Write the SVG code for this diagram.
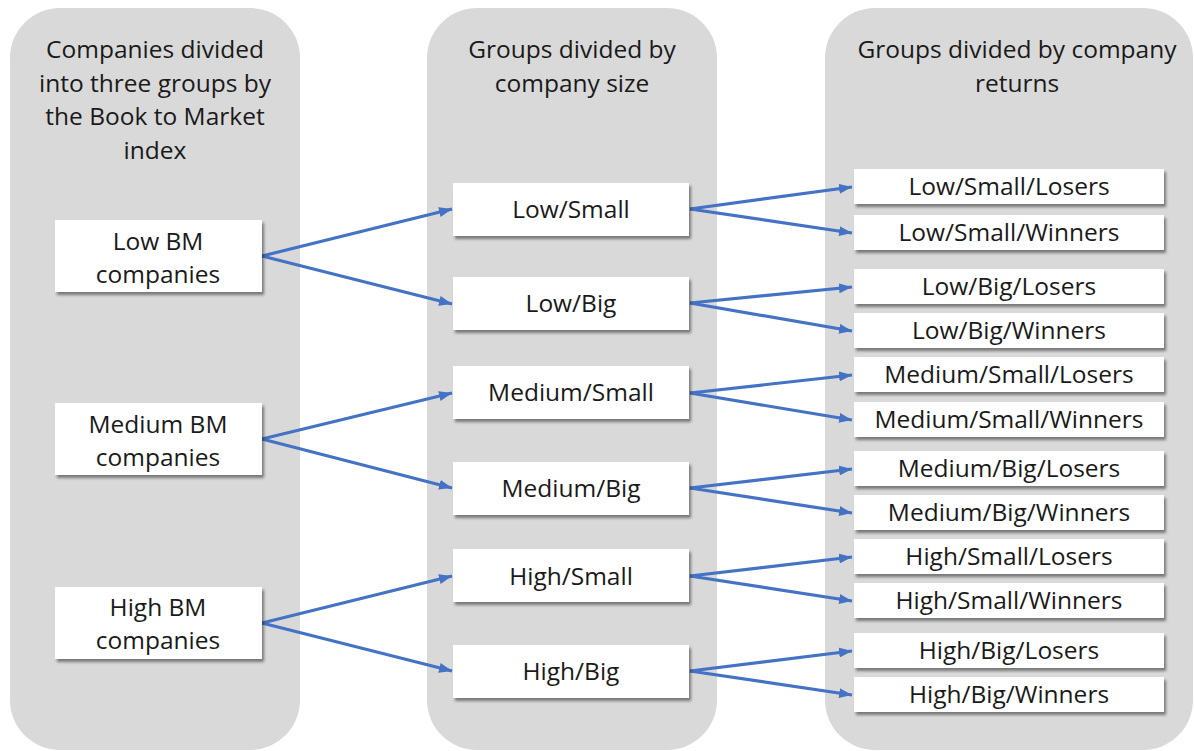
<svg xmlns="http://www.w3.org/2000/svg" width="1195" height="751" viewBox="0 0 1195 751">
<defs>
<filter id="sh" x="-10%" y="-20%" width="130%" height="160%">
<feDropShadow dx="2" dy="3" stdDeviation="1.8" flood-color="#000" flood-opacity="0.45"/>
</filter>
<marker id="ah" viewBox="0 0 13 10" refX="13" refY="5" markerWidth="13" markerHeight="10" markerUnits="userSpaceOnUse" orient="auto">
<path d="M0,0 L13,5 L0,10 Z" fill="#4472C4"/>
</marker>
<style>
.panel{fill:#D9D9D9}
.box{fill:#fff;filter:url(#sh)}
text{font-family:"Open Sans","Liberation Sans",sans-serif;font-size:24.5px;fill:#1a1a1a;text-anchor:middle}
.c{stroke:#4472C4;stroke-width:3.2;fill:none;marker-end:url(#ah)}
</style>
</defs>
<rect width="1195" height="751" fill="#fff"/>
<g id="panel1"><rect class="panel" x="10" y="8" width="290" height="742" rx="50"/>
<text x="155" y="58">Companies divided</text><text x="155" y="92">into three groups by</text><text x="155" y="125">the Book to Market</text><text x="155" y="159">index</text></g>
<g id="panel2"><rect class="panel" x="427" y="8" width="290" height="742" rx="50"/>
<text x="572" y="58">Groups divided by</text><text x="572" y="92">company size</text></g>
<g id="panel3"><rect class="panel" x="825" y="8" width="368" height="742" rx="50"/>
<text x="1017" y="58">Groups divided by company</text><text x="1017" y="92">returns</text></g>

<g id="connectors">
<path class="c" d="M262,256 L452,209"/><path class="c" d="M262,256 L452,304"/>
<path class="c" d="M262,439 L452,393"/><path class="c" d="M262,439 L452,488"/>
<path class="c" d="M262,623 L452,576"/><path class="c" d="M262,623 L452,671"/>
<path class="c" d="M690,209 L852,187"/><path class="c" d="M690,209 L852,233"/>
<path class="c" d="M690,303 L852,287"/><path class="c" d="M690,303 L852,331"/>
<path class="c" d="M690,393 L852,375"/><path class="c" d="M690,393 L852,420"/>
<path class="c" d="M690,488 L852,469"/><path class="c" d="M690,488 L852,513"/>
<path class="c" d="M690,576 L852,557"/><path class="c" d="M690,576 L852,601"/>
<path class="c" d="M690,671 L852,651"/><path class="c" d="M690,671 L852,695"/>
</g>

<g id="low-bm"><rect class="box" x="55" y="220" width="207" height="72"/><text x="158" y="250">Low BM</text><text x="158" y="283">companies</text></g>
<g id="medium-bm"><rect class="box" x="55" y="403" width="207" height="72"/><text x="158" y="433">Medium BM</text><text x="158" y="466">companies</text></g>
<g id="high-bm"><rect class="box" x="55" y="587" width="207" height="72"/><text x="158" y="616">High BM</text><text x="158" y="649">companies</text></g>

<g id="low-small"><rect class="box" x="453" y="183" width="236" height="53"/><text x="571" y="218">Low/Small</text></g>
<g id="low-big"><rect class="box" x="453" y="277" width="236" height="53"/><text x="571" y="312">Low/Big</text></g>
<g id="medium-small"><rect class="box" x="453" y="366" width="236" height="53"/><text x="571" y="401">Medium/Small</text></g>
<g id="medium-big"><rect class="box" x="453" y="462" width="236" height="53"/><text x="571" y="497">Medium/Big</text></g>
<g id="high-small"><rect class="box" x="453" y="549" width="236" height="53"/><text x="571" y="585">High/Small</text></g>
<g id="high-big"><rect class="box" x="453" y="645" width="236" height="53"/><text x="571" y="680">High/Big</text></g>

<g id="lsl"><rect class="box" x="854" y="169" width="310" height="35"/><text x="1009" y="195">Low/Small/Losers</text></g>
<g id="lsw"><rect class="box" x="854" y="215" width="310" height="35"/><text x="1009" y="241">Low/Small/Winners</text></g>
<g id="lbl"><rect class="box" x="854" y="269" width="310" height="35"/><text x="1009" y="295">Low/Big/Losers</text></g>
<g id="lbw"><rect class="box" x="854" y="313" width="310" height="35"/><text x="1009" y="339">Low/Big/Winners</text></g>
<g id="msl"><rect class="box" x="854" y="357" width="310" height="35"/><text x="1009" y="383">Medium/Small/Losers</text></g>
<g id="msw"><rect class="box" x="854" y="402" width="310" height="35"/><text x="1009" y="428">Medium/Small/Winners</text></g>
<g id="mbl"><rect class="box" x="854" y="451" width="310" height="35"/><text x="1009" y="477">Medium/Big/Losers</text></g>
<g id="mbw"><rect class="box" x="854" y="495" width="310" height="35"/><text x="1009" y="521">Medium/Big/Winners</text></g>
<g id="hsl"><rect class="box" x="854" y="539" width="310" height="35"/><text x="1009" y="565">High/Small/Losers</text></g>
<g id="hsw"><rect class="box" x="854" y="583" width="310" height="35"/><text x="1009" y="609">High/Small/Winners</text></g>
<g id="hbl"><rect class="box" x="854" y="633" width="310" height="35"/><text x="1009" y="659">High/Big/Losers</text></g>
<g id="hbw"><rect class="box" x="854" y="677" width="310" height="35"/><text x="1009" y="703">High/Big/Winners</text></g>
</svg>
